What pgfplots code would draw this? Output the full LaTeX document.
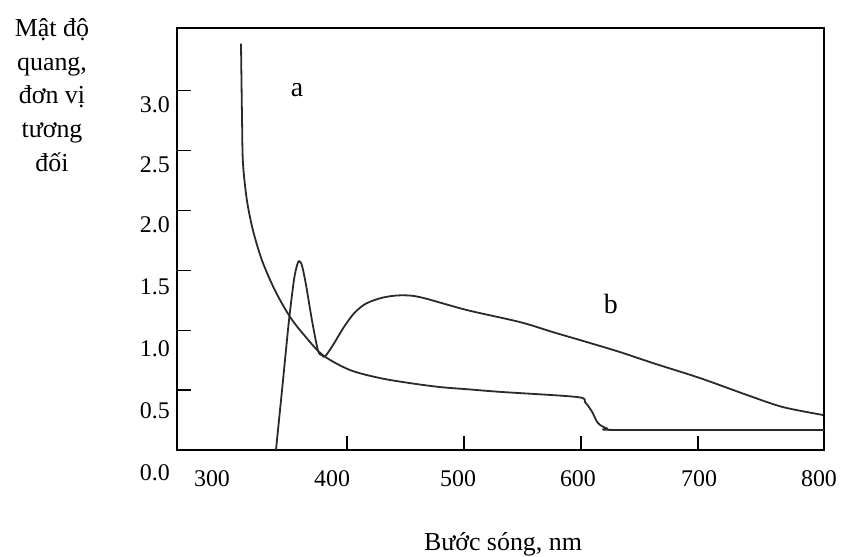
\documentclass[border=0pt]{standalone}
\usepackage{pgfplots}
\pgfplotsset{compat=1.18}
\usepackage{fontspec}
\setmainfont{Liberation Serif}
\definecolor{curve}{HTML}{2A2A2A}
\begin{document}
\begin{tikzpicture}
\begin{axis}[
  scale only axis, width=647bp, height=422bp,
  xmin=254.7, xmax=807.7, ymin=0, ymax=3.52,
  axis line style={line width=1.5bp, black},
  tick style={line width=1.2bp, black},
  tick align=inside, xtick pos=bottom, ytick pos=left,
  major tick length=14bp,
  xtick={400,500,600,700}, xticklabels={},
  ytick={0.5,1,1.5,2,2.5,3}, yticklabels={},
  extra x ticks={284.6,387.2,494.9,597.4,700.9,803.4},
  extra x tick labels={300,400,500,600,700,800},
  extra x tick style={major tick length=0pt,
    xticklabel style={anchor=north, inner sep=0pt, yshift=-20bp, font=\fontsize{24}{28}\selectfont}},
  extra y ticks={2.883,2.383,1.875,1.358,0.842,0.325},
  extra y tick labels={3.0,2.5,2.0,1.5,1.0,0.5},
  extra y tick style={major tick length=0pt,
    yticklabel style={anchor=east, inner sep=0pt, xshift=-7bp, font=\fontsize{24}{28}\selectfont}},
  clip=false,
]
% curve a
\addplot[curve, line width=1.8bp, smooth, tension=0.5] coordinates {
(309.4,3.39) (310.3,2.75) (311.1,2.39) (314.5,2.08) (319.7,1.83) (327.4,1.58)
(338.5,1.33) (351.3,1.11) (364.1,0.95) (379.5,0.79) (402.6,0.667) (428.2,0.60)
(453.8,0.558) (479.5,0.525) (505.1,0.505) (530.8,0.485) (596.6,0.442)
(603.4,0.40) (609.4,0.32) (614.5,0.225) (622.2,0.18) (633.3,0.167) (807.7,0.167)
};
% curve b
\addplot[curve, line width=1.8bp, smooth, tension=0.5] coordinates {
(339.3,0) (345.3,0.58) (350.4,1.08) (354.7,1.42) (357.3,1.54) (359.0,1.575)
(361.5,1.54) (365.0,1.375) (370.1,1.08) (375.2,0.83) (378.6,0.79) (381.2,0.78)
(388.0,0.875) (397,1.02) (406,1.14) (416,1.22) (430,1.27) (445.3,1.29) (462.4,1.275)
(502.6,1.167) (547.9,1.067) (576.1,0.983) (605.1,0.90) (633.3,0.817)
(661.5,0.725) (701.7,0.60) (744.4,0.45) (772.6,0.358) (806.8,0.292)
};
\node[font=\fontsize{28}{32}\selectfont] at (axis cs:357.3,3.0) {a};
\node[font=\fontsize{28}{32}\selectfont] at (axis cs:625.6,1.22) {b};
\node[anchor=east, inner sep=0pt, font=\fontsize{24}{28}\selectfont] at ([xshift=-7bp, yshift=-23bp]rel axis cs:0,0) {0.0};
\node[anchor=north, align=center, inner sep=0pt, font=\fontsize{26}{34}\selectfont] at ([xshift=-125bp, yshift=10bp]rel axis cs:0,1) {Mật độ\\quang,\\đơn vị\\tương\\đối};
\node[anchor=base, inner sep=0pt, font=\fontsize{26}{30}\selectfont] at ([xshift=326bp, yshift=-100bp]rel axis cs:0,0) {Bước sóng, nm};
\end{axis}
\pgfresetboundingbox
\path[use as bounding box] ([xshift=-177bp,yshift=-107bp]current axis.south west) rectangle ++(842bp,557bp);
\end{tikzpicture}
\end{document}
